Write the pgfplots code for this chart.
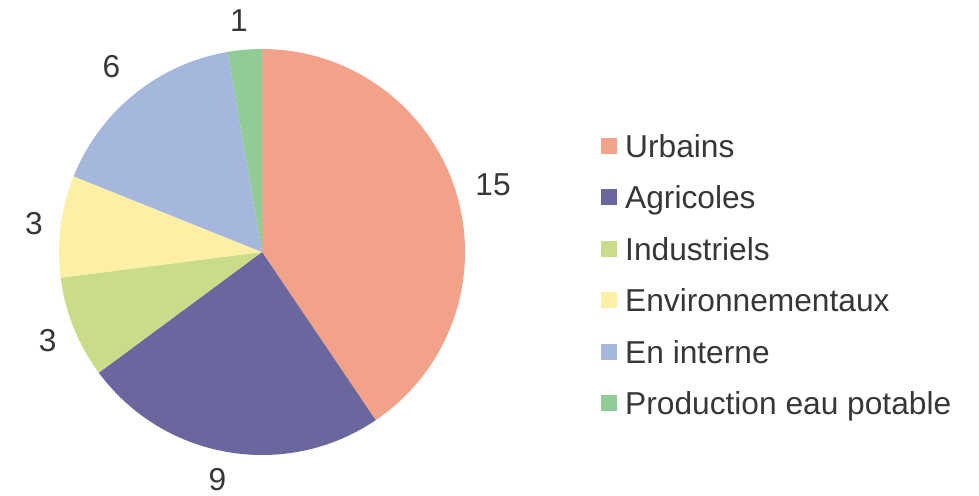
\documentclass[border=0pt]{standalone}
\usepackage{pgfplots}
\pgfplotsset{compat=1.18}
\usepackage{pgfplotstable}
\usepackage{fontspec}
\setmainfont{Liberation Sans}
\definecolor{urb}{RGB}{243,162,138}
\definecolor{agr}{RGB}{106,102,158}
\definecolor{ind}{RGB}{201,220,135}
\definecolor{env}{RGB}{253,240,165}
\definecolor{int}{RGB}{166,183,222}
\definecolor{prod}{RGB}{145,204,150}
\definecolor{txt}{RGB}{55,55,55}
\tikzset{lbl/.style={font=\fontsize{31.7bp}{38bp}\selectfont, text=txt, inner sep=0pt}}
\pgfplotstableread{
name value
Urbains 15
Agricoles 9
Industriels 3
Environnementaux 3
{En interne} 6
{Production eau potable} 1
}\piedata
\newcommand\getv[2]{\pgfplotstablegetelem{#1}{value}\of\piedata\let#2\pgfplotsretval}
\getv{0}\vA\getv{1}\vB\getv{2}\vC\getv{3}\vD\getv{4}\vE\getv{5}\vF
\pgfmathsetmacro\T{\vA+\vB+\vC+\vD+\vE+\vF}
\pgfmathsetmacro\aA{90-360*\vA/\T}
\pgfmathsetmacro\aB{\aA-360*\vB/\T}
\pgfmathsetmacro\aC{\aB-360*\vC/\T}
\pgfmathsetmacro\aD{\aC-360*\vD/\T}
\pgfmathsetmacro\aE{\aD-360*\vE/\T}
\pgfmathsetmacro\aF{\aE-360*\vF/\T}
\begin{document}%
\begin{tikzpicture}
\useasboundingbox (0,0) rectangle (979bp,496bp);
\begin{axis}[scale only axis, width=979bp, height=496bp, at={(0,0)}, anchor=south west,
  xmin=0, xmax=979, ymin=0, ymax=496, hide axis, ticks=none]
\fill[urb]  (axis cs:262,244) -- ++(90:203bp)  arc[start angle=90,  end angle=\aA, radius=203bp] -- cycle;
\fill[agr]  (axis cs:262,244) -- ++(\aA:203bp) arc[start angle=\aA, end angle=\aB, radius=203bp] -- cycle;
\fill[ind]  (axis cs:262,244) -- ++(\aB:203bp) arc[start angle=\aB, end angle=\aC, radius=203bp] -- cycle;
\fill[env]  (axis cs:262,244) -- ++(\aC:203bp) arc[start angle=\aC, end angle=\aD, radius=203bp] -- cycle;
\fill[int]  (axis cs:262,244) -- ++(\aD:203bp) arc[start angle=\aD, end angle=\aE, radius=203bp] -- cycle;
\fill[prod] (axis cs:262,244) -- ++(\aE:203bp) arc[start angle=\aE, end angle=\aF, radius=203bp] -- cycle;
% value labels
\node[lbl] at (axis cs:493,311.5) {\vA};
\node[lbl] at (axis cs:217.5,16) {\vB};
\node[lbl] at (axis cs:47.7,155.5) {\vC};
\node[lbl] at (axis cs:34,272) {\vD};
\node[lbl] at (axis cs:111.5,429.5) {\vE};
\node[lbl] at (axis cs:239,475) {\vF};
% legend
\fill[urb]  (axis cs:601,342) rectangle (axis cs:617,358);
\fill[agr]  (axis cs:601,290.5) rectangle (axis cs:617,306.5);
\fill[ind]  (axis cs:601,239) rectangle (axis cs:617,255);
\fill[env]  (axis cs:601,187.5) rectangle (axis cs:617,203.5);
\fill[int]  (axis cs:601,136) rectangle (axis cs:617,152);
\fill[prod] (axis cs:601,84.5) rectangle (axis cs:617,100.5);
\node[lbl, anchor=base west] at (axis cs:625,338.5) {Urbains};
\node[lbl, anchor=base west] at (axis cs:625,287) {Agricoles};
\node[lbl, anchor=base west] at (axis cs:625,235.5) {Industriels};
\node[lbl, anchor=base west] at (axis cs:625,184) {Environnementaux};
\node[lbl, anchor=base west] at (axis cs:625,132.5) {En interne};
\node[lbl, anchor=base west] at (axis cs:625,81) {Production eau potable};
\end{axis}
\end{tikzpicture}%
\end{document}
